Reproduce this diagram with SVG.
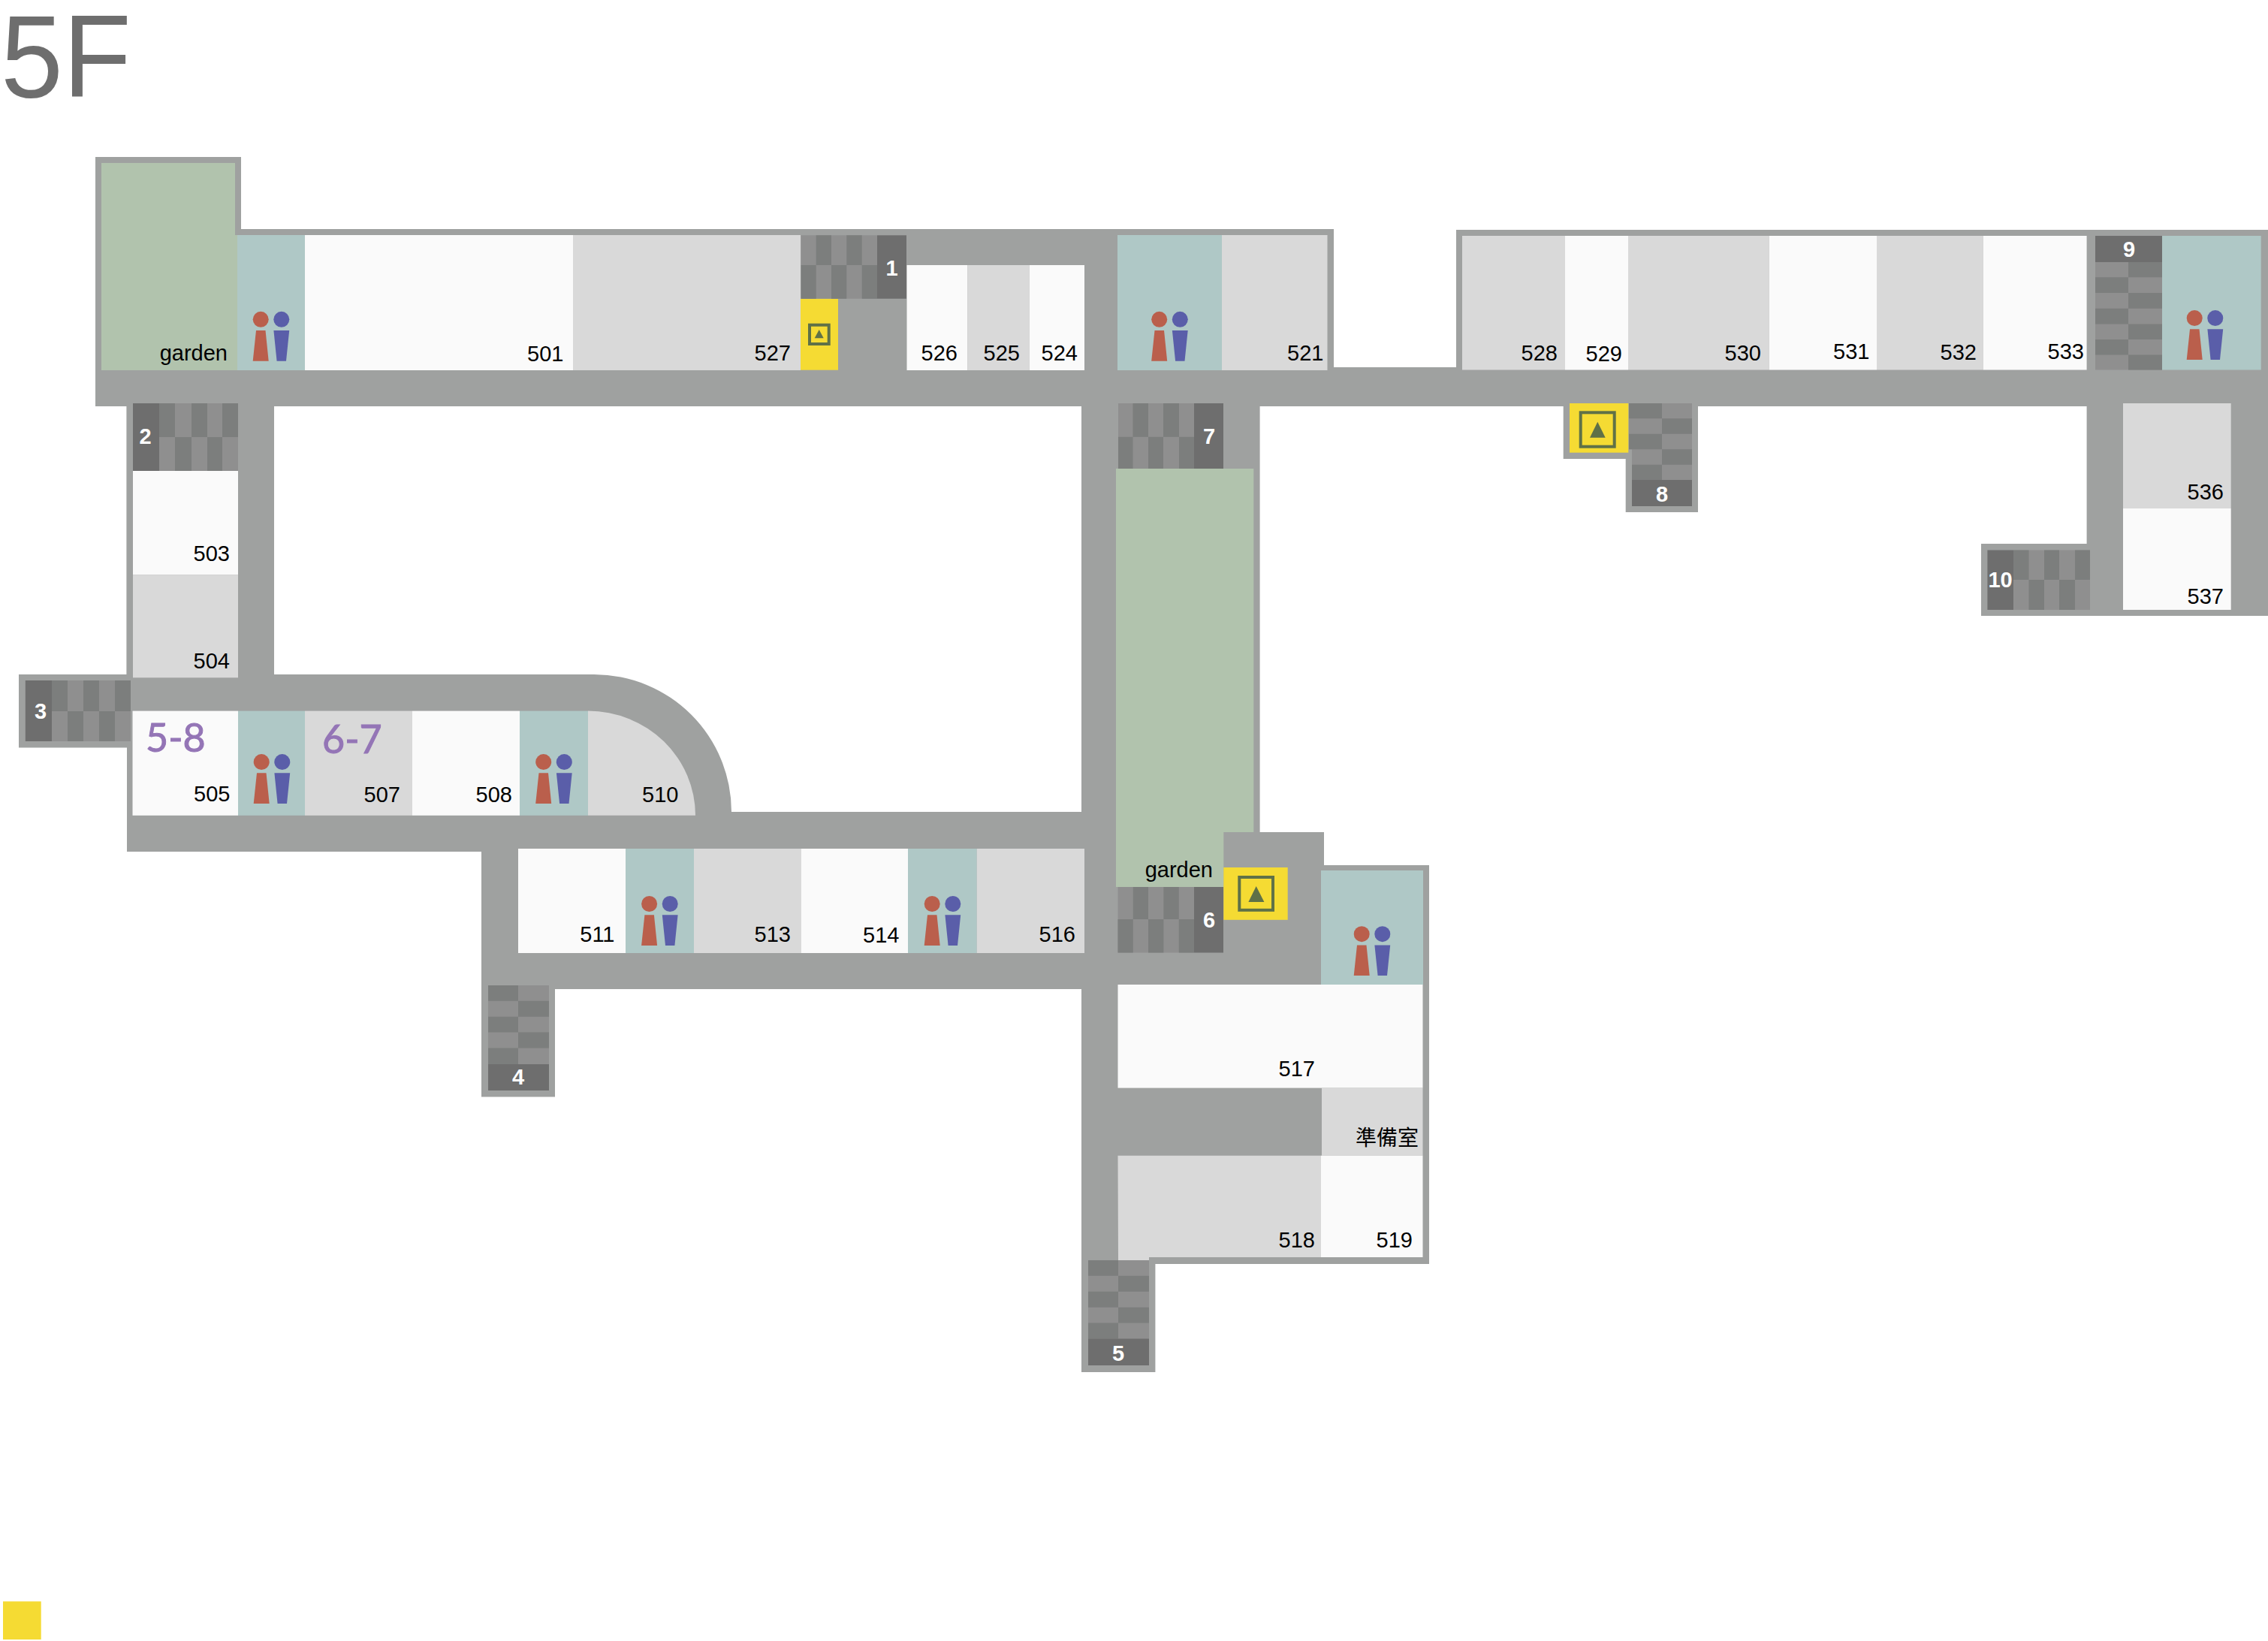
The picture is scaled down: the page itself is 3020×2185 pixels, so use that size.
<svg xmlns="http://www.w3.org/2000/svg" width="3020" height="2185" viewBox="0 0 3020 2185">
<style>
.wall{fill:#9fa1a0}
.w{fill:#fafafa}
.g{fill:#d9d9d9}
.wc{fill:#afc8c6}
.gd{fill:#b1c3ad}
.y{fill:#f5db33}
.sd{fill:#6e6e6e}
.cl{fill:#8f8f8f}
.cd{fill:#7c7e7d}
.ic{fill:#5f7147}
.box{fill:none;stroke:#5f7147;stroke-width:4}
text{font-family:"Liberation Sans",Arial,sans-serif;font-size:29px;fill:#000}
.n{text-anchor:end}
.s{font-weight:bold;fill:#fff;text-anchor:middle}
.p{font-family:Lato,"Noto Sans",sans-serif;font-size:52px;fill:#9475b6;stroke:#9475b6;stroke-width:1}
.t{font-size:149px;fill:#6e6e6e}
.cjk{font-family:"Noto Sans CJK TC","Noto Sans CJK JP",sans-serif;font-size:28px;text-anchor:end}
</style>
<defs>
<g id="person">
<circle cx="-13.8" cy="0" r="10.5" fill="#ba5f4c"/>
<circle cx="13.8" cy="0" r="10.5" fill="#5a5ea9"/>
<path d="M-20,14.7H-7.5L-3.3,55.4H-24.3Z" fill="#ba5f4c"/>
<path d="M3.4,14.7H24.2L20,55.4H7.6Z" fill="#5a5ea9"/>
</g>
</defs>

<g id="title"><text class="t" transform="translate(1,129) scale(1,1.05)">5F</text></g>

<g id="corridors">
<path class="wall" d="M127,209H321V305H1776V489H1939V306H3020V820H2638V724H2778.6V541H2261V682H2164.7V611H2081.7V541H1677.6V1108H1763V1152H1903V1683H1538.4V1827H1440V1317H739V1460.400H641V1134H169V995.6H25V898H168.4V541H127Z"/>
<path d="M365,541V898H791A183,183 0 0 1 974,1081H1440V541Z" fill="#fff"/>
</g>

<g id="garden-1"><path class="gd" d="M135,217H313V313H316V493H135Z"/><text class="n" x="303" y="479.500">garden</text></g>
<g id="wc-1"><rect class="wc" x="316" y="313" width="90" height="180"/><use href="#person" x="361" y="425.3"/></g>
<g id="room-501"><rect class="w" x="406" y="313" width="357" height="180"/><text class="n" x="750.500" y="481">501</text></g>
<g id="room-527"><rect class="g" x="763" y="313" width="303" height="180"/><text class="n" x="1053" y="480">527</text></g>
<g id="elevator-1"><rect class="y" x="1066" y="397.7" width="50" height="95"/><rect class="box" x="1078" y="432.7" width="25.7" height="25.3"/><path class="ic" d="M1090.7,439L1096.7,450.3H1084.7Z"/></g>
<g id="stairs-1"><rect class="cl" x="1066.7" y="313.3" width="101.3" height="84.4"/><path class="cd" d="M1086.7,313.3H1107V353H1086.7ZM1127.3,313.3H1147.7V353H1127.3ZM1066.7,353H1086.7V397.7H1066.7ZM1107,353H1127.3V397.7H1107ZM1147.7,353H1168V397.7H1147.7Z"/><rect class="sd" x="1168" y="313.3" width="39" height="84.4"/><text class="s" x="1187.500" y="367">1</text></g>
<g id="room-526"><rect class="w" x="1207.5" y="353" width="81" height="140"/><text class="n" x="1275" y="480">526</text></g>
<g id="room-525"><rect class="g" x="1288.5" y="353" width="82.3" height="140"/><text class="n" x="1358" y="480">525</text></g>
<g id="room-524"><rect class="w" x="1370.8" y="353" width="73.2" height="140"/><text class="n" x="1435" y="480">524</text></g>
<g id="wc-2"><rect class="wc" x="1488" y="313" width="139" height="180"/><use href="#person" x="1557.5" y="425.3"/></g>
<g id="room-521"><rect class="g" x="1627" y="313" width="140.5" height="180"/><text class="n" x="1762.500" y="480">521</text></g>

<g id="room-528"><rect class="g" x="1947" y="314" width="137" height="178.5"/><text class="n" x="2074" y="479.5">528</text></g>
<g id="room-529"><rect class="w" x="2084" y="314" width="84" height="178.5"/><text class="n" x="2160" y="481">529</text></g>
<g id="room-530"><rect class="g" x="2168" y="314" width="187.7" height="178.5"/><text class="n" x="2345" y="479.5">530</text></g>
<g id="room-531"><rect class="w" x="2355.7" y="314" width="143.3" height="178.5"/><text class="n" x="2489.500" y="478">531</text></g>
<g id="room-532"><rect class="g" x="2499" y="314" width="141.7" height="178.5"/><text class="n" x="2632" y="479">532</text></g>
<g id="room-533"><rect class="w" x="2640.7" y="314" width="137.9" height="178.5"/><text class="n" x="2775" y="478">533</text></g>
<g id="stairs-9"><rect class="cl" x="2790" y="349" width="89" height="143.5"/><path class="cd" d="M2834,349H2879V369.3H2834ZM2790,369.3H2834V390H2790ZM2834,390H2879V410.7H2834ZM2790,410.7H2834V431.4H2790ZM2834,431.4H2879V452H2834ZM2790,452H2834V472.5H2790ZM2834,472.5H2879V492.5H2834Z"/><rect class="sd" x="2790" y="314" width="89" height="35"/><text class="s" x="2835" y="341.5">9</text></g>
<g id="wc-3"><rect class="wc" x="2879" y="314" width="131.7" height="178.5"/><use href="#person" x="2936" y="423.6"/></g>
<g id="elevator-2"><rect class="y" x="2090" y="537" width="78.3" height="65.7"/><rect class="box" x="2104.7" y="549.3" width="45" height="45.4"/><path class="ic" d="M2127.3,561.7L2137.7,582.7H2117Z"/></g>
<g id="stairs-8"><path class="cl" d="M2169,537H2253V639H2173V598.3H2169Z"/><path class="cd" d="M2169,537H2213V557.3H2169ZM2213,557.3H2253V577.7H2213ZM2169,577.7H2213V598.3H2169ZM2213,598.3H2253V618.7H2213ZM2173,618.7H2213V639H2173Z"/><rect class="sd" x="2173" y="639" width="80" height="35"/><text class="s" x="2213" y="668">8</text></g>
<g id="room-536"><rect class="g" x="2827" y="537" width="143.7" height="140"/><text class="n" x="2961" y="664.500">536</text></g>
<g id="room-537"><rect class="w" x="2827" y="677" width="143.7" height="135"/><text class="n" x="2961" y="803.5">537</text></g>
<g id="stairs-10"><rect class="cl" x="2681" y="732.5" width="102" height="79.5"/><path class="cd" d="M2681,732.5H2701.5V772H2681ZM2722,732.5H2742V772H2722ZM2763,732.5H2783V772H2763ZM2701.5,772H2722V812H2701.5ZM2742,772H2763V812H2742Z"/><rect class="sd" x="2646.4" y="732.5" width="34.6" height="79.5"/><text class="s" x="2663.6" y="782">10</text></g>

<g id="stairs-2"><rect class="cl" x="212" y="537" width="105" height="90"/><path class="cd" d="M212,537H233V582H212ZM255,537H276V582H255ZM296,537H317V582H296ZM233,582H255V627H233ZM276,582H296V627H276Z"/><rect class="sd" x="177" y="537" width="35" height="90"/><text class="s" x="193.5" y="591">2</text></g>
<g id="room-503"><rect class="w" x="177" y="627" width="140" height="138.5"/><text class="n" x="306" y="747">503</text></g>
<g id="room-504"><rect class="g" x="177" y="765.5" width="140" height="136.8"/><text class="n" x="306" y="889.5">504</text></g>
<g id="stairs-3"><rect class="cl" x="69" y="906" width="105" height="81"/><path class="cd" d="M69,906H90V947H69ZM111,906H132V947H111ZM153,906H174V947H153ZM90,947H111V987H90ZM132,947H153V987H132Z"/><rect class="sd" x="33.8" y="906" width="35.2" height="81"/><text class="s" x="54" y="957">3</text></g>
<g id="room-505"><rect class="w" x="176.5" y="946.6" width="140.500" height="139.2"/><text class="p" x="194" y="1001">5-8</text><text class="n" x="306.500" y="1067">505</text></g>
<g id="wc-4"><rect class="wc" x="317" y="946.6" width="89" height="139.2"/><use href="#person" x="362" y="1014.6"/></g>
<g id="room-507"><rect class="g" x="406" y="946.6" width="143" height="139.2"/><text class="p" x="429" y="1003">6-7</text><text class="n" x="533" y="1068.4">507</text></g>
<g id="room-508"><rect class="w" x="549" y="946.6" width="143" height="139.2"/><text class="n" x="682" y="1068.4">508</text></g>
<g id="wc-5"><rect class="wc" x="692" y="946.6" width="91" height="139.2"/><use href="#person" x="737.5" y="1014.6"/></g>
<g id="room-510"><path class="g" d="M783,946.6A143,139.2 0 0 1 926,1085.8H783Z"/><text class="n" x="903.5" y="1068.4">510</text></g>

<g id="room-511"><rect class="w" x="690" y="1130" width="143" height="139"/><text class="n" x="818.500" y="1254.3">511</text></g>
<g id="wc-6"><rect class="wc" x="833" y="1130" width="91" height="139"/><use href="#person" x="878.4" y="1203.500"/></g>
<g id="room-513"><rect class="g" x="924" y="1130" width="142.5" height="139"/><text class="n" x="1053" y="1254.3">513</text></g>
<g id="room-514"><rect class="w" x="1066.5" y="1130" width="142.5" height="139"/><text class="n" x="1197.5" y="1254.500">514</text></g>
<g id="wc-7"><rect class="wc" x="1209" y="1130" width="91.7" height="139"/><use href="#person" x="1255" y="1203.500"/></g>
<g id="room-516"><rect class="g" x="1300.7" y="1130" width="143.3" height="139"/><text class="n" x="1432" y="1254.3">516</text></g>
<g id="stairs-4"><rect class="cl" x="650" y="1312" width="81" height="105"/><path class="cd" d="M650,1312H690V1332.700H650ZM690,1332.700H731V1353.700H690ZM650,1353.700H690V1374.600H650ZM690,1374.600H731V1395.600H690ZM650,1395.600H690V1417H650Z"/><rect class="sd" x="650" y="1417" width="81" height="35"/><text class="s" x="690" y="1444">4</text></g>

<g id="stairs-7"><rect class="cl" x="1489" y="537" width="101" height="87"/><path class="cd" d="M1508.5,537H1529V581.7H1508.5ZM1549,537H1570V581.7H1549ZM1489,581.7H1508.5V624H1489ZM1529,581.7H1549V624H1529ZM1570,581.7H1590V624H1570Z"/><rect class="sd" x="1590" y="537" width="39" height="87"/><text class="s" x="1610" y="591">7</text></g>
<g id="garden-2"><path class="gd" d="M1486,624H1669.3V1108H1629.3V1181H1486Z"/><text class="n" x="1615" y="1167.500">garden</text></g>
<g id="stairs-6"><rect class="cl" x="1488.5" y="1181" width="101.5" height="87.500"/><path class="cd" d="M1508.8,1181H1529V1224H1508.8ZM1549.4,1181H1569.8V1224H1549.4ZM1488.5,1224H1508.800V1268.500H1488.5ZM1529,1224H1549.4V1268.500H1529ZM1569.8,1224H1590V1268.500H1569.8Z"/><rect class="sd" x="1590" y="1181" width="39" height="87.500"/><text class="s" x="1610" y="1235">6</text></g>
<g id="elevator-3"><rect class="y" x="1629.3" y="1155" width="85.4" height="69.8"/><rect class="box" x="1650.3" y="1168" width="44.7" height="43.8"/><path class="ic" d="M1672.7,1180L1683.4,1201H1662.4Z"/></g>
<g id="wc-8"><rect class="wc" x="1759" y="1159" width="136" height="152"/><use href="#person" x="1827" y="1243.700"/></g>
<g id="room-517"><rect class="w" x="1488.5" y="1311" width="406" height="137.6"/><text class="n" x="1751" y="1433">517</text></g>
<g id="room-prep"><rect class="g" x="1760" y="1448.6" width="134.5" height="90.1"/><text class="cjk" x="1889" y="1524.500">準備室</text></g>
<g id="room-518"><path class="g" d="M1488.5,1538.7H1759V1674H1530V1678H1489Z"/><text class="n" x="1751" y="1661">518</text></g>
<g id="room-519"><rect class="w" x="1759" y="1538.7" width="135.5" height="135.3"/><text class="n" x="1881" y="1661">519</text></g>
<g id="stairs-5"><rect class="cl" x="1449" y="1678" width="81" height="105"/><path class="cd" d="M1449,1678H1489V1698.800H1449ZM1489,1698.800H1530V1719.800H1489ZM1449,1719.800H1489V1740.700H1449ZM1489,1740.700H1530V1761.600H1489ZM1449,1761.600H1489V1782.500H1449Z"/><rect class="sd" x="1449" y="1782.5" width="81" height="35.500"/><text class="s" x="1489" y="1811.500">5</text></g>

<g id="legend"><rect class="y" x="4" y="2132.3" width="50.7" height="50.7"/></g>
</svg>
